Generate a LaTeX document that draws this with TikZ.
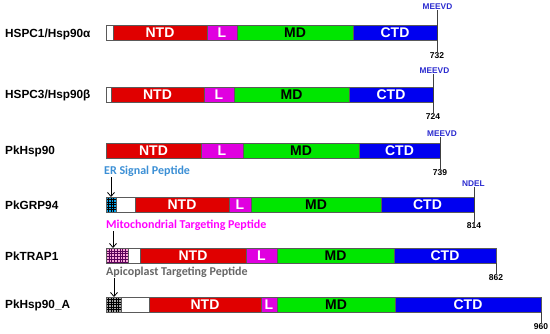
\documentclass[tikz,border=0pt]{standalone}
\usepackage{fontspec}
\setmainfont{Liberation Sans}
\newfontfamily\calibri{Carlito}
\usetikzlibrary{arrows.meta}

\begin{document}
\begin{tikzpicture}[x=1pt, y=-1pt,
    rowLabel/.style={anchor=west, inner sep=0pt, font=\bfseries\fontsize{11.8}{13}\selectfont},
    domainBox/.style={draw=borderColour, line width=0.7pt},
    domainText/.style={inner sep=0pt, font=\bfseries\fontsize{14}{15}\selectfont},
    motif/.style={inner sep=0pt, text=motifColour, font=\bfseries\fontsize{8.3}{10}\selectfont},
    aaLength/.style={inner sep=0pt, font=\bfseries\fontsize{8.5}{10}\selectfont},
    tick/.style={draw=tickColour, line width=0.7pt},
    peptide/.style={anchor=west, inner sep=0pt, font=\calibri\bfseries\fontsize{12}{13}\selectfont},
    pointer/.style={-{Straight Barb[length=4pt, width=7pt]}, line width=0.8pt}]

    % Define bar height
    \def\barH{15}

    \definecolor{borderColour}{HTML}{5A5A5A}
    \definecolor{tickColour}{HTML}{404040}
    \definecolor{ntdColour}{HTML}{E00000}
    \definecolor{linkColour}{HTML}{E000E0}
    \definecolor{mdColour}{HTML}{00E600}
    \definecolor{ctdColour}{HTML}{0000F0}
    \definecolor{motifColour}{HTML}{2A2ACF}
    \definecolor{erColour}{HTML}{3B8FD5}
    \definecolor{mitoColour}{HTML}{FF00FF}
    \definecolor{apicoColour}{HTML}{666666}

    \useasboundingbox (0,0) rectangle (550,333);

    % Draw HSPC1/Hsp90alpha
    \def\rowTop{25}
    \node[rowLabel] (hspcA) at (5,{\rowTop+9}) {HSPC1/Hsp90α};
    \foreach \a/\b/\c/\t/\tc in {106/113/white//white, 113/207/ntdColour/NTD/white,
        207/237/linkColour/L/white, 237/353/mdColour/MD/black, 353/437/ctdColour/CTD/white} {
        \draw[domainBox, fill=\c] (\a,\rowTop) rectangle (\b,{\rowTop+\barH});
        \node[domainText, text=\tc] at ({(\a+\b)/2},{\rowTop+\barH/2}) {\t};
    }
    \node[motif] (meevdA) at (437.5,7) {MEEVD};
    \node[aaLength] (lenA) at (437,56) {732};
    \draw[tick] (meevdA.south -| lenA) -- (lenA.north);

    % Draw HSPC3/Hsp90beta
    \def\rowTop{87}
    \node[rowLabel] (hspcB) at (5,{\rowTop+8}) {HSPC3/Hsp90β};
    \foreach \a/\b/\c/\t/\tc in {106/111/white//white, 111/204/ntdColour/NTD/white,
        204/234/linkColour/L/white, 234/349/mdColour/MD/black, 349/433/ctdColour/CTD/white} {
        \draw[domainBox, fill=\c] (\a,\rowTop) rectangle (\b,{\rowTop+\barH});
        \node[domainText, text=\tc] at ({(\a+\b)/2},{\rowTop+\barH/2}) {\t};
    }
    \node[motif] (meevdB) at (434.5,71) {MEEVD};
    \node[aaLength] (lenB) at (433,117) {724};
    \draw[tick] (meevdB.south -| lenB) -- (lenB.north);

    % Draw PkHsp90
    \def\rowTop{143}
    \node[rowLabel] (pkHsp) at (5,{\rowTop+8}) {PkHsp90};
    \foreach \a/\b/\c/\t/\tc in {106/201/ntdColour/NTD/white, 201/243/linkColour/L/white,
        243/359/mdColour/MD/black, 359/440/ctdColour/CTD/white} {
        \draw[domainBox, fill=\c] (\a,\rowTop) rectangle (\b,{\rowTop+\barH});
        \node[domainText, text=\tc] at ({(\a+\b)/2},{\rowTop+\barH/2}) {\t};
    }
    \node[motif] (meevdC) at (442,134) {MEEVD};
    \node[aaLength] (lenC) at (440,173) {739};
    \draw[tick] (meevdC.south -| lenC) -- (lenC.north);

    % Draw PkGRP94
    \def\rowTop{197}
    \node[rowLabel] (pkGrp) at (5,{\rowTop+8}) {PkGRP94};
    \foreach \a/\b/\c/\t/\tc in {106/116/cyan!90!blue//white, 116/135/white//white,
        135/229/ntdColour/NTD/white, 229/251/linkColour/L/white,
        251/381/mdColour/MD/black, 381/474/ctdColour/CTD/white} {
        \draw[domainBox, fill=\c] (\a,\rowTop) rectangle (\b,{\rowTop+\barH});
        \node[domainText, text=\tc] at ({(\a+\b)/2},{\rowTop+\barH/2}) {\t};
    }
    \begin{scope}[shift={(106,\rowTop)}]
        \draw[black, line width=0.4pt, step=2.5pt] (0,0) grid (10,\barH);
    \end{scope}
    \draw[domainBox] (106,\rowTop) rectangle (116,{\rowTop+\barH});
    \node[motif] (ndel) at (473.5,184) {NDEL};
    \node[aaLength] (lenD) at (474,226) {814};
    \draw[tick] (ndel.south -| lenD) -- (lenD.north);
    \node[peptide, text=erColour] (erPep) at (104,171) {ER Signal Peptide};
    \coordinate (erSite) at (111,\rowTop);
    \draw[pointer] ([yshift=-1pt]erSite |- erPep.south) -- (erSite);

    % Draw PkTRAP1
    \def\rowTop{248}
    \node[rowLabel] (pkTrap) at (5,{\rowTop+8}) {PkTRAP1};
    \foreach \a/\b/\c/\t/\tc in {106/128/magenta!35//white, 128/140/white//white,
        140/246/ntdColour/NTD/white, 246/277/linkColour/L/white,
        277/394/mdColour/MD/black, 394/496/ctdColour/CTD/white} {
        \draw[domainBox, fill=\c] (\a,\rowTop) rectangle (\b,{\rowTop+\barH});
        \node[domainText, text=\tc] at ({(\a+\b)/2},{\rowTop+\barH/2}) {\t};
    }
    \begin{scope}[shift={(106,\rowTop)}]
        \draw[violet!70!black, line width=0.4pt, step=2.75pt] (0,0) grid (22,\barH);
    \end{scope}
    \draw[domainBox] (106,\rowTop) rectangle (128,{\rowTop+\barH});
    \coordinate (trapEnd) at (496,{\rowTop+\barH});
    \node[aaLength] (lenE) at (496,278) {862};
    \draw[tick] (trapEnd) -- (lenE.north);
    \node[peptide, text=mitoColour] (mitoPep) at (106,225) {Mitochondrial Targeting Peptide};
    \coordinate (mitoSite) at (113,\rowTop);
    \draw[pointer] ([yshift=-1pt]mitoSite |- mitoPep.south) -- (mitoSite);

    % Draw PkHsp90_A
    \def\rowTop{297}
    \node[rowLabel] (pkApi) at (5,{\rowTop+8}) {PkHsp90\_A};
    \foreach \a/\b/\c/\t/\tc in {106/121/gray!70//white, 121/149/white//white,
        149/261/ntdColour/NTD/white, 261/277/linkColour/L/white,
        277/395/mdColour/MD/black, 395/541/ctdColour/CTD/white} {
        \draw[domainBox, fill=\c] (\a,\rowTop) rectangle (\b,{\rowTop+\barH});
        \node[domainText, text=\tc] at ({(\a+\b)/2},{\rowTop+\barH/2}) {\t};
    }
    \begin{scope}[shift={(106,\rowTop)}]
        \draw[black, line width=0.4pt, step=2.5pt] (0,0) grid (15,\barH);
    \end{scope}
    \draw[domainBox] (106,\rowTop) rectangle (121,{\rowTop+\barH});
    \coordinate (apiEnd) at (541,{\rowTop+\barH});
    \node[aaLength] (lenF) at (541,327) {960};
    \draw[tick] (apiEnd) -- (lenF.north);
    \node[peptide, text=apicoColour] (apiPep) at (106,272) {Apicoplast Targeting Peptide};
    \coordinate (apiSite) at (114,\rowTop);
    \draw[pointer] ([yshift=-1pt]apiSite |- apiPep.south) -- (apiSite);

\end{tikzpicture}
\end{document}
